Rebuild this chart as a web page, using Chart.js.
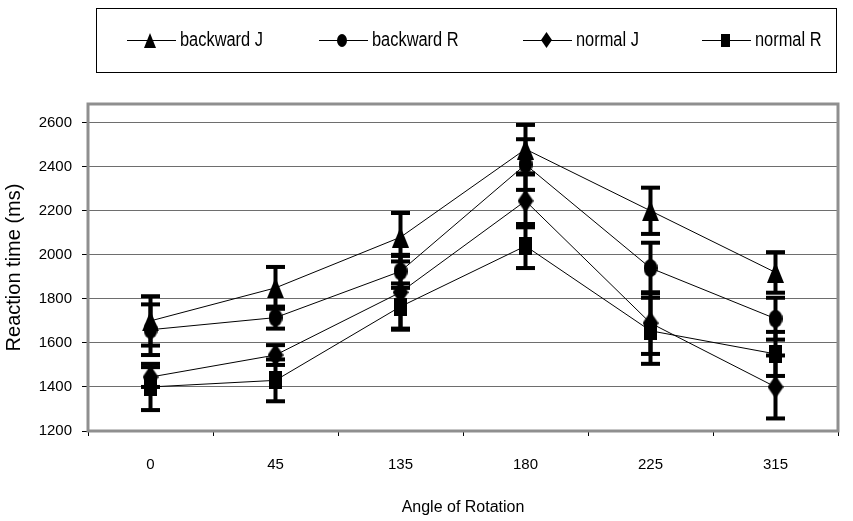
<!DOCTYPE html>
<html>
<head>
<meta charset="utf-8">
<script src="https://cdn.jsdelivr.net/npm/chart.js@4.4.1/dist/chart.umd.min.js"></script>
<style>
  html, body { margin: 0; padding: 0; background: #fff; }
  #wrap { width: 853px; height: 521px; }
</style>
</head>
<body>
<div id="wrap"><canvas id="grafico" width="853" height="521"></canvas></div>
<script>
// Categorias e marcas do eixo
const angles = ['0', '45', '135', '180', '225', '315'];
const yTicks = [1200, 1400, 1600, 1800, 2000, 2200, 2400, 2600];

// Médias (ms)
const backwardJ = [1700, 1850, 2080, 2480, 2200, 1920];
const backwardR = [1660, 1715, 1925, 2410, 1940, 1710];
const normalJ   = [1445, 1545, 1830, 2245, 1690, 1400];
const normalR   = [1400, 1430, 1765, 2040, 1655, 1550];

// Barras de erro (+/- ms)
const backwardJErr = [112, 95, 110, 110, 105, 92];
const backwardRErr = [115, 50, 75, 115, 115, 95];
const normalJErr   = [45, 45, 165, 120, 140, 143];
const normalRErr   = [105, 95, 105, 100, 150, 100];

const FONTE = "'Liberation Sans', Arial, sans-serif";

// marcadores um pouco mais altos que largos, como no original
function marcador(tipo, w, h) {
  const c = document.createElement('canvas');
  c.width = w; c.height = h;
  const g = c.getContext('2d');
  g.fillStyle = '#000';
  g.beginPath();
  if (tipo === 'triangle') { g.moveTo(w / 2, 0); g.lineTo(w, h); g.lineTo(0, h); }
  else if (tipo === 'circle') g.ellipse(w / 2, h / 2, w / 2, h / 2, 0, 0, Math.PI * 2);
  else if (tipo === 'diamond') { g.moveTo(w / 2, 0); g.lineTo(w, h / 2); g.lineTo(w / 2, h); g.lineTo(0, h / 2); }
  else g.rect(0, 0, w, h);
  g.closePath();
  g.fill();
  return c;
}

function serie(label, data, erro, tipo, w, h) {
  return {
    label, data, erro,
    borderColor: '#000',
    backgroundColor: '#000',
    borderWidth: 1,
    tension: 0,
    fill: false,
    pointStyle: marcador(tipo, w, h),
    legendMarker: marcador(tipo, Math.round(w * 0.7), Math.round(h * 0.7))
  };
}

// -------------------- barras de erro --------------------
const barrasErro = {
  id: 'barrasErro',
  afterDatasetsDraw(chart) {
    const ctx = chart.ctx, y = chart.scales.y;
    ctx.save();
    ctx.fillStyle = '#000';
    chart.data.datasets.forEach((ds, i) => {
      chart.getDatasetMeta(i).data.forEach((pt, j) => {
        const topo = y.getPixelForValue(ds.data[j] + ds.erro[j]);
        const base = y.getPixelForValue(ds.data[j] - ds.erro[j]);
        ctx.fillRect(pt.x - 2, topo, 4, base - topo);
        ctx.fillRect(pt.x - 9.5, topo - 2, 19, 4);
        ctx.fillRect(pt.x - 9.5, base - 2, 19, 4);
      });
    });
    ctx.restore();
  }
};

// -------------------- moldura cinza + legenda --------------------
const legendaX = [150, 342, 546, 725];
const moldura = {
  id: 'moldura',
  afterDraw(chart) {
    const ctx = chart.ctx, a = chart.chartArea;
    ctx.save();
    ctx.strokeStyle = '#8f8f8f';
    ctx.lineWidth = 3;
    ctx.strokeRect(a.left, a.top, a.right - a.left, a.bottom - a.top);

    ctx.strokeStyle = '#000';
    ctx.lineWidth = 1;
    ctx.strokeRect(96.5, 8.5, 740, 64);
    ctx.font = '20px ' + FONTE;
    ctx.fillStyle = '#000';
    ctx.textBaseline = 'middle';
    chart.data.datasets.forEach((ds, i) => {
      const x = legendaX[i], y = 40;
      ctx.beginPath();
      ctx.moveTo(x - 23, y + 0.5);
      ctx.lineTo(x + 26, y + 0.5);
      ctx.stroke();
      const m = ds.legendMarker;
      ctx.drawImage(m, Math.round(x - m.width / 2), Math.round(y - m.height / 2));
      // texto estreito (tipo Arial Narrow)
      ctx.save();
      ctx.translate(x + 30, y);
      ctx.scale(0.82, 1);
      ctx.fillText(ds.label, 0, 0);
      ctx.restore();
    });
    ctx.restore();
  }
};

new Chart(document.getElementById('grafico'), {
  type: 'line',
  data: {
    labels: angles,
    datasets: [
      serie('backward J', backwardJ, backwardJErr, 'triangle', 17, 21),
      serie('backward R', backwardR, backwardRErr, 'circle', 14, 18),
      serie('normal J', normalJ, normalJErr, 'diamond', 16, 23),
      serie('normal R', normalR, normalRErr, 'rect', 13, 18)
    ]
  },
  options: {
    responsive: false,
    animation: false,
    devicePixelRatio: 1,
    layout: { padding: { top: 104, right: 15, left: 0, bottom: 0 } },
    plugins: { legend: { display: false }, tooltip: { enabled: false } },
    events: [],
    scales: {
      x: {
        offset: true,
        afterFit: s => { s.height = 90; },
        border: { display: false },
        grid: { drawOnChartArea: false, offset: true, tickLength: 5, tickColor: '#000' },
        ticks: { padding: 20, color: '#000', font: { family: FONTE, size: 15 } },
        title: {
          display: true, text: 'Angle of Rotation', color: '#000',
          font: { family: FONTE, size: 16 }, padding: { top: 0, bottom: 4 }
        }
      },
      y: {
        min: 1200,
        max: 2685,
        afterBuildTicks: s => { s.ticks = yTicks.map(v => ({ value: v })); },
        afterFit: s => { s.width = 88; },
        border: { display: false },
        grid: { color: '#6e6e6e', lineWidth: 1, tickLength: 6, tickColor: '#000' },
        ticks: { padding: 10, color: '#000', font: { family: FONTE, size: 15 }, callback: v => String(v) },
        title: {
          display: true, text: 'Reaction time (ms)', color: '#000',
          font: { family: FONTE, size: 20 }, padding: { top: 2, bottom: 0 }
        }
      }
    }
  },
  plugins: [barrasErro, moldura]
});
</script>
</body>
</html>
